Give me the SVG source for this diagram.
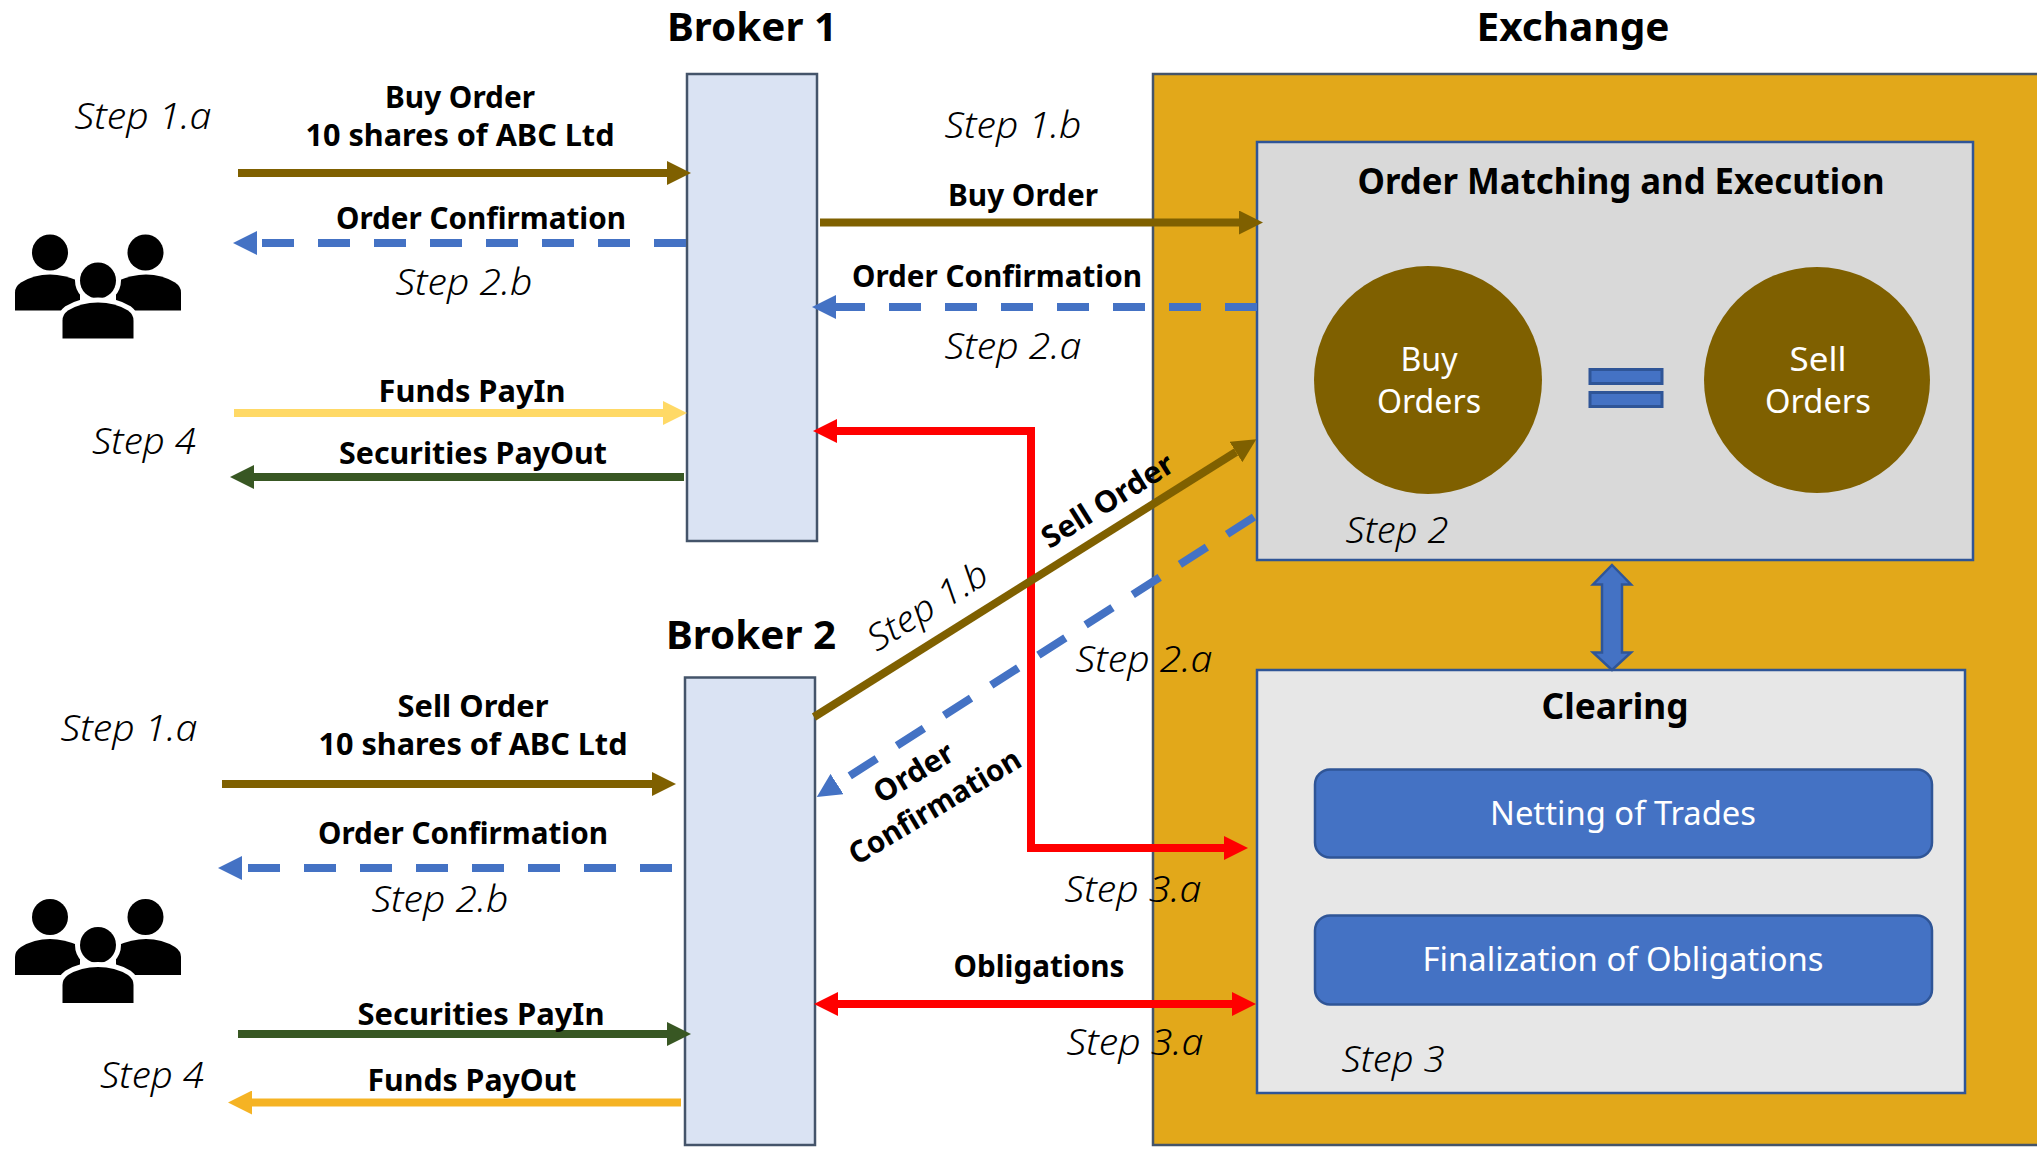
<svg xmlns="http://www.w3.org/2000/svg" width="2037" height="1149" viewBox="0 0 2037 1149">
<style>
text{font-family:"Noto Sans","Open Sans","Liberation Sans",sans-serif;fill:#000}
.b{font-weight:700;font-size:30px;text-anchor:middle}
.t{font-weight:700;font-size:40px;text-anchor:middle}
.s{font-style:italic;font-weight:300;font-size:36px;text-anchor:middle}
.w{fill:#fff;font-size:32px;text-anchor:middle}
.l{fill:none;stroke-width:8}
.d{stroke-dasharray:32 24}
.brk{fill:#DAE3F3;stroke:#44546A;stroke-width:2.5}
.box{stroke:#2F5597;stroke-width:2.5}
.blue{fill:#4472C4;stroke:#2F5597;stroke-width:2.5}
</style>
<defs>
<marker id="mBrown" markerUnits="userSpaceOnUse" markerWidth="24" markerHeight="24" refX="0" refY="12" orient="auto-start-reverse"><path d="M0 0L24 12L0 24z" fill="#7F6000"/></marker>
<marker id="mBlue" markerUnits="userSpaceOnUse" markerWidth="24" markerHeight="24" refX="0" refY="12" orient="auto-start-reverse"><path d="M0 0L24 12L0 24z" fill="#4472C4"/></marker>
<marker id="mRed" markerUnits="userSpaceOnUse" markerWidth="24" markerHeight="24" refX="0" refY="12" orient="auto-start-reverse"><path d="M0 0L24 12L0 24z" fill="#FF0000"/></marker>
<marker id="mYellow" markerUnits="userSpaceOnUse" markerWidth="24" markerHeight="24" refX="0" refY="12" orient="auto-start-reverse"><path d="M0 0L24 12L0 24z" fill="#FFD966"/></marker>
<marker id="mGreen" markerUnits="userSpaceOnUse" markerWidth="24" markerHeight="24" refX="0" refY="12" orient="auto-start-reverse"><path d="M0 0L24 12L0 24z" fill="#385723"/></marker>
<marker id="mOrange" markerUnits="userSpaceOnUse" markerWidth="24" markerHeight="24" refX="0" refY="12" orient="auto-start-reverse"><path d="M0 0L24 12L0 24z" fill="#F5B324"/></marker>
<g id="people">
<circle cx="50" cy="917" r="18"/><circle cx="145.500" cy="917" r="18"/>
<path d="M15 975V957Q15 951 21 947Q34 939 50 939Q64 939 80 946V975z"/>
<path d="M181 975V957Q181 951 175 947Q162 939 146 939Q132 939 116 946V975z"/>
<circle cx="98" cy="945" r="18" stroke="#fff" stroke-width="10" paint-order="stroke"/>
<path d="M62.500 1003V985Q62.500 979 68 975Q81 967 98 967Q115 967 128 975Q133.500 979 133.500 985V1003z" stroke="#fff" stroke-width="10" paint-order="stroke"/>
</g>
</defs>
<rect width="2037" height="1149" fill="#fff"/>

<g id="exchange">
<rect x="1153" y="74" width="900" height="1071" fill="#E2A81A" stroke="#44546A" stroke-width="2.5"/>
<text class="t" x="1573" y="41" textLength="193" lengthAdjust="spacingAndGlyphs">Exchange</text>
</g>
<g id="broker1">
<rect class="brk" x="687" y="74" width="130" height="467"/>
<text class="t" x="752" y="41" textLength="170" lengthAdjust="spacingAndGlyphs">Broker 1</text>
</g>
<g id="broker2">
<rect class="brk" x="685" y="677.500" width="130" height="467.500"/>
<text class="t" x="751" y="649" textLength="170" lengthAdjust="spacingAndGlyphs">Broker 2</text>
</g>
<g id="matching">
<rect class="box" x="1257" y="142" width="716" height="418" fill="#D9D9D9"/>
<text class="b" style="font-size:36px" x="1621" y="194" textLength="527" lengthAdjust="spacingAndGlyphs">Order Matching and Execution</text>
<text class="s" x="1397" y="543" textLength="103" lengthAdjust="spacingAndGlyphs">Step 2</text>
</g>
<g id="buyOrders">
<circle cx="1428" cy="380" r="114" fill="#7F6000"/>
<text class="w" x="1429" y="371" textLength="57" lengthAdjust="spacingAndGlyphs">Buy</text>
<text class="w" x="1429" y="413" textLength="104" lengthAdjust="spacingAndGlyphs">Orders</text>
</g>
<g id="sellOrders">
<circle cx="1817" cy="380" r="113" fill="#7F6000"/>
<text class="w" x="1818" y="371" textLength="57" lengthAdjust="spacingAndGlyphs">Sell</text>
<text class="w" x="1818" y="413" textLength="106" lengthAdjust="spacingAndGlyphs">Orders</text>
</g>
<g id="equals">
<rect class="blue" style="stroke-width:3" x="1590" y="369.500" width="72" height="14"/>
<rect class="blue" style="stroke-width:3" x="1590" y="392.500" width="72" height="14"/>
</g>
<g id="clearing">
<rect class="box" x="1257" y="670" width="708" height="423" fill="#E7E7E7"/>
<text class="b" style="font-size:36px" x="1615" y="719" textLength="147" lengthAdjust="spacingAndGlyphs">Clearing</text>
<text class="s" x="1393" y="1072" textLength="103" lengthAdjust="spacingAndGlyphs">Step 3</text>
</g>
<g id="netting">
<rect class="blue" x="1315" y="769.500" width="617" height="88" rx="15"/>
<text class="w" x="1623" y="825" textLength="266" lengthAdjust="spacingAndGlyphs">Netting of Trades</text>
</g>
<g id="finalization">
<rect class="blue" x="1315" y="915.500" width="617" height="89" rx="15"/>
<text class="w" x="1623" y="971" textLength="401" lengthAdjust="spacingAndGlyphs">Finalization of Obligations</text>
</g>
<g id="investors1"><use href="#people" y="-664.500"/></g>
<g id="investors2"><use href="#people"/></g>

<g id="connectors">
<line class="l" stroke="#7F6000" x1="238" y1="173" x2="667" y2="173" marker-end="url(#mBrown)"/>
<line class="l d" stroke="#4472C4" x1="686" y1="243" x2="257" y2="243" marker-end="url(#mBlue)"/>
<line class="l" stroke="#FFD966" x1="234" y1="413" x2="663" y2="413" marker-end="url(#mYellow)"/>
<line class="l" stroke="#385723" x1="684" y1="477" x2="254" y2="477" marker-end="url(#mGreen)"/>
<line class="l" stroke="#7F6000" x1="820" y1="222.500" x2="1239" y2="222.500" marker-end="url(#mBrown)"/>
<line class="l d" stroke="#4472C4" x1="1257" y1="307" x2="836" y2="307" marker-end="url(#mBlue)"/>
<path class="l" stroke="#FF0000" d="M1224 848H1031V431H837" marker-start="url(#mRed)" marker-end="url(#mRed)"/>
<line class="l" stroke="#7F6000" x1="814" y1="717" x2="1236" y2="452" marker-end="url(#mBrown)"/>
<line class="l d" stroke="#4472C4" x1="1254" y1="517" x2="837" y2="784" marker-end="url(#mBlue)"/>
<line class="l" stroke="#FF0000" x1="838" y1="1004" x2="1232" y2="1004" marker-start="url(#mRed)" marker-end="url(#mRed)"/>
<line class="l" stroke="#7F6000" x1="222" y1="784" x2="652" y2="784" marker-end="url(#mBrown)"/>
<line class="l d" stroke="#4472C4" x1="672" y1="868" x2="242" y2="868" marker-end="url(#mBlue)"/>
<line class="l" stroke="#385723" x1="238" y1="1034" x2="667" y2="1034" marker-end="url(#mGreen)"/>
<line class="l" stroke="#F5B324" x1="681" y1="1102.500" x2="252" y2="1102.500" marker-end="url(#mOrange)"/>
<path class="blue" d="M1612 565L1631 584.500H1622V652.500H1631L1612 670L1593 652.500H1602V584.500H1593z"/>
</g>

<g id="labels" transform="translate(0 -1.500)">
<text class="s" x="143" y="130" textLength="137" lengthAdjust="spacingAndGlyphs">Step 1.a</text>
<text class="b" x="460" y="109" textLength="150" lengthAdjust="spacingAndGlyphs">Buy Order</text>
<text class="b" x="460" y="147" textLength="309" lengthAdjust="spacingAndGlyphs">10 shares of ABC Ltd</text>
<text class="b" x="481" y="230" textLength="290" lengthAdjust="spacingAndGlyphs">Order Confirmation</text>
<text class="s" x="464" y="296" textLength="137" lengthAdjust="spacingAndGlyphs">Step 2.b</text>
<text class="b" x="472" y="403" textLength="187" lengthAdjust="spacingAndGlyphs">Funds PayIn</text>
<text class="s" x="144" y="455" textLength="104" lengthAdjust="spacingAndGlyphs">Step 4</text>
<text class="b" x="473" y="465" textLength="268" lengthAdjust="spacingAndGlyphs">Securities PayOut</text>
<text class="s" x="1013" y="139" textLength="137" lengthAdjust="spacingAndGlyphs">Step 1.b</text>
<text class="b" x="1023" y="207" textLength="150" lengthAdjust="spacingAndGlyphs">Buy Order</text>
<text class="b" x="997" y="288" textLength="290" lengthAdjust="spacingAndGlyphs">Order Confirmation</text>
<text class="s" x="1013" y="360" textLength="137" lengthAdjust="spacingAndGlyphs">Step 2.a</text>
<text class="b" transform="translate(1113 511) rotate(-32)" textLength="150" lengthAdjust="spacingAndGlyphs">Sell Order</text>
<text class="s" transform="translate(934 618) rotate(-32)" textLength="135" lengthAdjust="spacingAndGlyphs">Step 1.b</text>
<text class="s" x="1144" y="673" textLength="137" lengthAdjust="spacingAndGlyphs">Step 2.a</text>
<text class="b" transform="translate(919 783) rotate(-31)" textLength="88" lengthAdjust="spacingAndGlyphs">Order</text>
<text class="b" transform="translate(940 817) rotate(-31)" textLength="195" lengthAdjust="spacingAndGlyphs">Confirmation</text>
<text class="s" x="1133" y="903" textLength="137" lengthAdjust="spacingAndGlyphs">Step 3.a</text>
<text class="b" x="1039" y="978" textLength="171" lengthAdjust="spacingAndGlyphs">Obligations</text>
<text class="s" x="1135" y="1056" textLength="137" lengthAdjust="spacingAndGlyphs">Step 3.a</text>
<text class="s" x="129" y="742" textLength="137" lengthAdjust="spacingAndGlyphs">Step 1.a</text>
<text class="b" x="473" y="718" textLength="151" lengthAdjust="spacingAndGlyphs">Sell Order</text>
<text class="b" x="473" y="756" textLength="309" lengthAdjust="spacingAndGlyphs">10 shares of ABC Ltd</text>
<text class="b" x="463" y="845" textLength="290" lengthAdjust="spacingAndGlyphs">Order Confirmation</text>
<text class="s" x="440" y="913" textLength="137" lengthAdjust="spacingAndGlyphs">Step 2.b</text>
<text class="b" x="481" y="1026" textLength="247" lengthAdjust="spacingAndGlyphs">Securities PayIn</text>
<text class="b" x="472" y="1092" textLength="209" lengthAdjust="spacingAndGlyphs">Funds PayOut</text>
<text class="s" x="152" y="1089" textLength="104" lengthAdjust="spacingAndGlyphs">Step 4</text>
</g>
</svg>
